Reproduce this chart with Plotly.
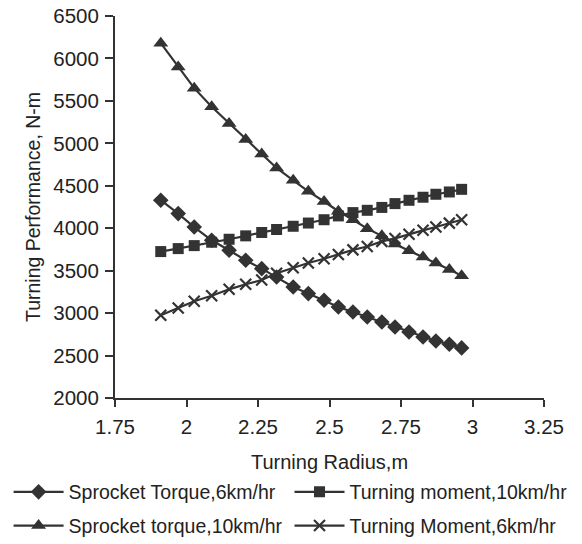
import plotly.graph_objects as go

# Turning radius (m)
radius = [1.910, 1.971, 2.027, 2.088, 2.149, 2.207, 2.263, 2.315, 2.373, 2.426, 2.481,
          2.531, 2.582, 2.632, 2.683, 2.729, 2.778, 2.827, 2.872, 2.919, 2.962]

sprocket_torque_6 = [4330, 4172, 4014, 3858, 3740, 3622, 3524, 3425, 3308, 3230, 3151,
                     3072, 3013, 2954, 2895, 2836, 2777, 2719, 2671, 2633, 2590]
turning_moment_10 = [3725, 3760, 3795, 3835, 3870, 3910, 3950, 3985, 4023, 4061, 4100,
                     4145, 4184, 4211, 4245, 4290, 4329, 4365, 4400, 4427, 4458]
sprocket_torque_10 = [6180, 5900, 5650, 5430, 5235, 5045, 4875, 4710, 4565, 4435, 4315,
                      4200, 4100, 3995, 3910, 3815, 3735, 3660, 3590, 3515, 3440]
turning_moment_6 = [2975, 3060, 3140, 3205, 3280, 3340, 3390, 3470, 3535, 3590, 3640,
                    3690, 3745, 3785, 3845, 3880, 3930, 3975, 4015, 4060, 4100]

names = ["Sprocket Torque,6km/hr", "Turning moment,10km/hr",
         "Sprocket torque,10km/hr", "Turning Moment,6km/hr"]
x_ticks = [1.75, 2, 2.25, 2.5, 2.75, 3, 3.25]
x_tick_labels = ["1.75", "2", "2.25", "2.5", "2.75", "3", "3.25"]
y_ticks = [2000, 2500, 3000, 3500, 4000, 4500, 5000, 5500, 6000, 6500]

INK = "#333333"
FONT = "Liberation Sans, Arial, sans-serif"

series = [
    (sprocket_torque_6, "diamond", 12, 0, "legend"),
    (turning_moment_10, "square", 11, 0, "legend2"),
    (sprocket_torque_10, "triangle-up", 13, 0, "legend3"),
    (turning_moment_6, "x-thin", 11, 2.2, "legend4"),
]

fig = go.Figure()
for (vals, sym, size, lw, leg), name in zip(series, names):
    fig.add_trace(go.Scatter(
        x=radius, y=vals, name=name, mode="lines+markers", legend=leg,
        line=dict(color=INK, width=2.2),
        marker=dict(symbol=sym, size=size, color=INK,
                    line=dict(color=INK, width=lw)),
    ))

legend_common = dict(
    orientation="h", xref="container", yref="container",
    xanchor="left", yanchor="middle",
    font=dict(size=19.5, color="#222222"),
    bgcolor="rgba(0,0,0,0)", borderwidth=0,
    itemwidth=50,
)
col1, col2 = 0.001, 0.4837
row1, row2 = 0.110, 0.048

fig.update_layout(
    width=582, height=544,
    margin=dict(l=107, r=46, t=8, b=154, autoexpand=False),
    paper_bgcolor="white", plot_bgcolor="white",
    font=dict(family=FONT, size=20, color="#222222"),
    showlegend=True,
    legend=dict(legend_common, x=col1, y=row1),
    legend2=dict(legend_common, x=col2, y=row1),
    legend3=dict(legend_common, x=col1, y=row2),
    legend4=dict(legend_common, x=col2, y=row2),
    xaxis=dict(
        range=[1.75, 3.25], tickvals=x_ticks, ticktext=x_tick_labels,
        showgrid=False, zeroline=False, showline=True, linecolor=INK, linewidth=2,
        ticks="outside", ticklen=7, tickwidth=2, tickcolor=INK,
        tickfont=dict(size=20.5, color="#222222"),
        ticklabelstandoff=2, ticklabeloverflow="allow",
        title=dict(text="Turning Radius,m", standoff=34,
                   font=dict(size=20, color="#222222")),
    ),
    yaxis=dict(
        range=[2000, 6500], tickvals=y_ticks,
        showgrid=False, zeroline=False, showline=True, linecolor=INK, linewidth=2,
        ticks="outside", ticklen=8, tickwidth=2, tickcolor=INK,
        tickfont=dict(size=20.5, color="#222222"),
        ticklabelstandoff=2, ticklabeloverflow="allow",
        title=dict(text="Turning Performance, N-m", standoff=7,
                   font=dict(size=19.5, color="#222222")),
    ),
)

fig.write_html("out.html")
